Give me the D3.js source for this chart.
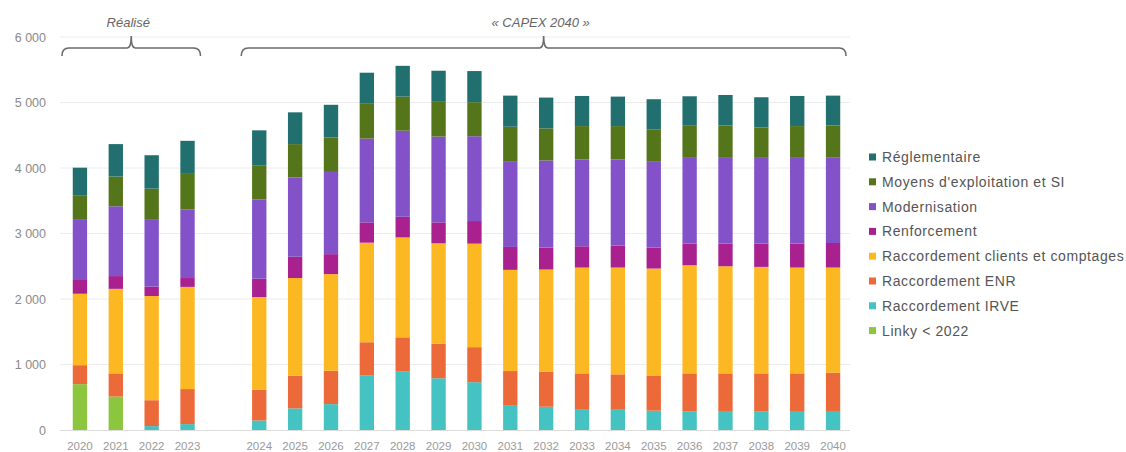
<!DOCTYPE html>
<html lang="fr">
<head>
<meta charset="utf-8">
<script src="https://cdn.jsdelivr.net/npm/d3@7"></script>
<style>
  html, body { margin: 0; padding: 0; background: #fff; }
  svg { display: block; font-family: "Liberation Sans", Arial, sans-serif; }
</style>
</head>
<body>
<svg id="chart" width="1126" height="452"></svg>
<script>
// Years shown, with an empty slot separating actuals from the plan
const years = ["2020","2021","2022","2023","2024","2025","2026","2027","2028","2029","2030",
  "2031","2032","2033","2034","2035","2036","2037","2038","2039","2040"];
const gapKey = "gap";
const slots = ["2020","2021","2022","2023", gapKey,
  "2024","2025","2026","2027","2028","2029","2030",
  "2031","2032","2033","2034","2035","2036","2037","2038","2039","2040"];

// Series, bottom to top of each stack (M€)
const linky        = [700, 510, 0, 0, 0, 0, 0, 0, 0, 0, 0, 0, 0, 0, 0, 0, 0, 0, 0, 0, 0];
const irve         = [0, 0, 60, 90, 145, 330, 395, 830, 890, 790, 730, 370, 355, 320, 320, 295, 280, 290, 280, 290, 290];
const enr          = [290, 355, 395, 535, 470, 500, 510, 510, 525, 525, 535, 530, 535, 545, 530, 530, 585, 575, 585, 575, 585];
const clients      = [1090, 1290, 1590, 1560, 1415, 1490, 1475, 1520, 1525, 1535, 1580, 1545, 1560, 1615, 1630, 1640, 1650, 1635, 1625, 1615, 1605];
const renforcement = [210, 195, 145, 135, 280, 325, 305, 310, 315, 320, 345, 350, 335, 325, 335, 320, 330, 345, 355, 365, 375];
const modernisation= [930, 1065, 1030, 1045, 1210, 1210, 1255, 1280, 1315, 1310, 1295, 1310, 1330, 1325, 1315, 1320, 1310, 1310, 1310, 1310, 1310];
const moyens       = [365, 455, 465, 545, 515, 510, 525, 540, 520, 530, 520, 525, 490, 510, 510, 480, 490, 495, 465, 485, 485];
const reglementaire= [420, 495, 510, 505, 540, 485, 500, 465, 470, 475, 475, 475, 470, 460, 450, 465, 450, 465, 460, 460, 455];

const seriesNames = ["Linky < 2022", "Raccordement IRVE", "Raccordement ENR",
  "Raccordement clients et comptages", "Renforcement", "Modernisation",
  "Moyens d'exploitation et SI", "Réglementaire"];
const seriesValues = [linky, irve, enr, clients, renforcement, modernisation, moyens, reglementaire];
const seriesColors = ["#8cc63e", "#45c2c2", "#ec6a3a", "#fcb822", "#a8218e", "#8352c9", "#55751b", "#21706f"];

const yTicks = [0, 1000, 2000, 3000, 4000, 5000, 6000];

// Group brackets above the bars
const groups = [
  { label: "Réalisé", from: "2020", to: "2023" },
  { label: "« CAPEX 2040 »", from: "2024", to: "2040" }
];

// Build rows for d3.stack
const rows = years.map((yr, i) => {
  const r = { year: yr };
  seriesNames.forEach((n, k) => { r[n] = seriesValues[k][i]; });
  return r;
});

const svg = d3.select("#chart");

const x = d3.scaleBand().domain(slots).range([62, 851]).paddingInner(0.6).paddingOuter(0.3);
const y = d3.scaleLinear().domain([0, 6000]).range([430, 37]);

const fmt = v => d3.format(",")(v).replace(/,/g, " ");

// Gridlines
svg.append("g")
  .selectAll("line")
  .data(yTicks.filter(t => t > 0))
  .join("line")
  .attr("x1", 60).attr("x2", 850)
  .attr("y1", d => y(d)).attr("y2", d => y(d))
  .attr("stroke", "#ececec").attr("stroke-width", 1);

// Y axis labels
const yAxis = d3.axisLeft(y).tickValues(yTicks).tickFormat(fmt).tickSize(0).tickPadding(0);
const gy = svg.append("g").attr("transform", "translate(46,0)").call(yAxis);
gy.select(".domain").remove();
gy.selectAll("text").attr("fill", "#8a8a8a").style("font-size", "12.5px");

// Stacked bars
const stack = d3.stack().keys(seriesNames);
const stacked = stack(rows);

svg.append("g")
  .selectAll("g")
  .data(stacked)
  .join("g")
  .attr("fill", (d, i) => seriesColors[i])
  .selectAll("rect")
  .data(d => d.filter(p => p[1] - p[0] > 0))
  .join("rect")
  .attr("x", d => x(d.data.year))
  .attr("width", x.bandwidth())
  .attr("y", d => y(d[1]))
  .attr("height", d => y(d[0]) - y(d[1]));

// Baseline
svg.append("line")
  .attr("x1", 60).attr("x2", 850)
  .attr("y1", y(0) + 0.5).attr("y2", y(0) + 0.5)
  .attr("stroke", "#dcdcdc").attr("stroke-width", 1.2);

// X axis labels
const xAxis = d3.axisBottom(x).tickValues(years).tickSize(0).tickPadding(0);
const gx = svg.append("g").attr("transform", `translate(0,${y(0) + 12})`).call(xAxis);
gx.select(".domain").remove();
gx.selectAll("text").attr("fill", "#9a9a9a").style("font-size", "11.5px");

// Curly brackets with labels
const bracketY = 48;
groups.forEach(g => {
  const c0 = x(g.from) + x.bandwidth() / 2;
  const c1 = x(g.to) + x.bandwidth() / 2;
  const x0 = c0 - 18;
  const x1 = c1 + 13;
  const xm = (x0 + x1) / 2;
  const r = 5;
  const path = d3.path();
  path.moveTo(x0, bracketY + 8);
  path.quadraticCurveTo(x0, bracketY, x0 + r + 2, bracketY);
  path.lineTo(xm - 4, bracketY);
  path.quadraticCurveTo(xm, bracketY, xm, bracketY - 12);
  path.quadraticCurveTo(xm, bracketY, xm + 4, bracketY);
  path.lineTo(x1 - r - 2, bracketY);
  path.quadraticCurveTo(x1, bracketY, x1, bracketY + 8);
  svg.append("path")
    .attr("d", path.toString())
    .attr("fill", "none")
    .attr("stroke", "#6b6b6b")
    .attr("stroke-width", 1.6);
  svg.append("text")
    .attr("x", xm - 3).attr("y", 27)
    .attr("text-anchor", "middle")
    .attr("fill", "#666")
    .style("font-size", "13px")
    .style("font-style", "italic")
    .text(g.label);
});

// Legend, top entry is the top of the stack
const legendItems = seriesNames.map((n, i) => ({ name: n, color: seriesColors[i] })).reverse();
const legend = svg.append("g").attr("transform", "translate(869,157)");
const li = legend.selectAll("g").data(legendItems).join("g")
  .attr("transform", (d, i) => `translate(0,${i * 24.8})`);
li.append("rect").attr("x", 0).attr("y", -3.5).attr("width", 7).attr("height", 7).attr("fill", d => d.color);
li.append("text").attr("x", 13).attr("y", 0).attr("dy", "0.35em")
  .attr("fill", "#555").style("font-size", "14px").style("letter-spacing", "0.6px")
  .text(d => d.name);
</script>
</body>
</html>
